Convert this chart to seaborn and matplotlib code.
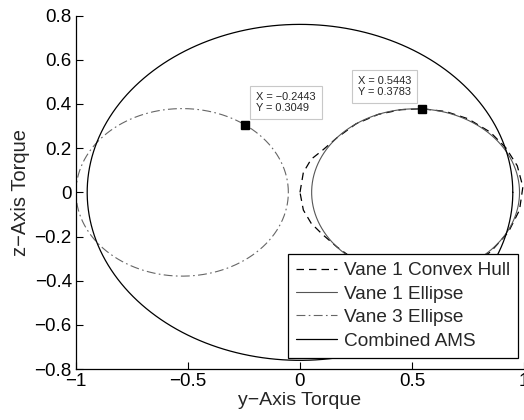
import numpy as np
import pandas as pd
import matplotlib
matplotlib.use("Agg")
import matplotlib.pyplot as plt
import seaborn as sns

# ---- data ----
# ellipse parameters: (center y, center z), (semi-axis y, semi-axis z)
combined_center = (0.0, 0.0)
combined_axes = (0.95, 0.76)
vane1_center = (0.516, 0.0)
vane1_axes = (0.464, 0.378)
vane3_center = (-0.526, 0.0)
vane3_axes = (0.474, 0.379)

# convex hull vertices of vane 1 (y, z)
hull_y = [0.0, 0.015, 0.05, 0.10, 0.165, 0.25, 0.35, 0.45, 0.5443, 0.65, 0.75, 0.85,
          0.92, 0.97, 0.995, 0.98, 0.93, 0.85, 0.75, 0.65, 0.5443, 0.45, 0.35, 0.25,
          0.165, 0.10, 0.05, 0.015, 0.0]
hull_z = [0.0, 0.09, 0.15, 0.19, 0.247, 0.31, 0.353, 0.374, 0.3783, 0.366, 0.333, 0.272,
          0.20, 0.12, 0.025, -0.08, -0.18, -0.27, -0.333, -0.366, -0.3783, -0.374, -0.353, -0.31,
          -0.247, -0.19, -0.14, -0.08, 0.0]

# data cursor points
cursor_y = [-0.2443, 0.5443]
cursor_z = [0.3049, 0.3783]

x_ticks = [-1, -0.5, 0, 0.5, 1]
x_ticklabels = ["\u22121", "\u22120.5", "0", "0.5", "1"]
y_ticks = [-0.8, -0.6, -0.4, -0.2, 0, 0.2, 0.4, 0.6, 0.8]
y_ticklabels = ["\u22120.8", "\u22120.6", "\u22120.4", "\u22120.2", "0", "0.2", "0.4", "0.6", "0.8"]

labels = ["Vane 1 Convex Hull", "Vane 1 Ellipse", "Vane 3 Ellipse", "Combined AMS"]


def ellipse_df(center, axes, n=400):
    t = np.linspace(0, 2 * np.pi, n)
    return pd.DataFrame({"y": center[0] + axes[0] * np.cos(t),
                         "z": center[1] + axes[1] * np.sin(t),
                         "i": np.arange(n)})


sns.set_style("ticks")
plt.rcParams["font.family"] = ["Liberation Sans", "DejaVu Sans"]
plt.rcParams["xtick.direction"] = "in"
plt.rcParams["ytick.direction"] = "in"

fig = plt.figure(figsize=(5.24, 4.2), dpi=100)
ax = fig.add_axes([0.145, 0.121, 0.855, 0.842])

hull_df = pd.DataFrame({"y": hull_y, "z": hull_z, "i": np.arange(len(hull_y))})
sns.lineplot(data=hull_df, x="y", y="z", sort=False, estimator=None, ax=ax,
             color="black", lw=0.9, linestyle=(0, (6, 4)), label=labels[0])
sns.lineplot(data=ellipse_df(vane1_center, vane1_axes), x="y", y="z", sort=False,
             estimator=None, ax=ax, color="#555555", lw=0.8, label=labels[1])
sns.lineplot(data=ellipse_df(vane3_center, vane3_axes), x="y", y="z", sort=False,
             estimator=None, ax=ax, color="#666666", lw=0.8,
             linestyle=(0, (8, 3, 1.5, 3)), label=labels[2])
sns.lineplot(data=ellipse_df(combined_center, combined_axes), x="y", y="z", sort=False,
             estimator=None, ax=ax, color="black", lw=0.9, label=labels[3])

# data cursors
ax.plot(cursor_y, cursor_z, linestyle="none", marker="s", markersize=5.3,
        color="black", zorder=5)
bbox = dict(boxstyle="square,pad=0.55", fc="white", ec="#c8c8c8", lw=0.8)
ax.annotate(f"X = {cursor_y[0]:.4f}".replace("-", "\u2212") + f"\nY = {cursor_z[0]:.4f}",
            xy=(cursor_y[0], cursor_z[0]), xytext=(11, 12), textcoords="offset pixels",
            ha="left", va="bottom", fontsize=7.9, bbox=bbox, linespacing=1.1, zorder=6)
ax.annotate(f"X = {cursor_y[1]:.4f}\nY = {cursor_z[1]:.4f}",
            xy=(cursor_y[1], cursor_z[1]), xytext=(-11, 12), textcoords="offset pixels",
            ha="right", va="bottom", multialignment="left", fontsize=7.9, bbox=bbox,
            linespacing=1.1, zorder=6)

ax.set_xlim(-1, 1)
ax.set_ylim(-0.8, 0.8)
ax.set_xticks(x_ticks)
ax.set_xticklabels(x_ticklabels, fontsize=13.5)
ax.set_yticks(y_ticks)
ax.set_yticklabels(y_ticklabels, fontsize=13.5)
ax.tick_params(length=5, width=0.8, colors="black", pad=3)
for s in ["top", "right"]:
    ax.spines[s].set_visible(False)
for s in ["left", "bottom"]:
    ax.spines[s].set_linewidth(0.9)
    ax.spines[s].set_color("black")

ax.set_xlabel("y\u2212Axis Torque", fontsize=14, labelpad=1)
ax.set_ylabel("z\u2212Axis Torque", fontsize=14.5, labelpad=3)

leg = ax.legend(loc="lower right", bbox_to_anchor=(0.987, 0.033), borderaxespad=0,
                fontsize=13.7, frameon=True, fancybox=False, handlelength=2.2,
                handletextpad=0.35, labelspacing=0.32, borderpad=0.42)
leg.get_frame().set_edgecolor("black")
leg.get_frame().set_linewidth(0.9)
leg.get_frame().set_alpha(1)

fig.savefig("out.png", dpi=100)
